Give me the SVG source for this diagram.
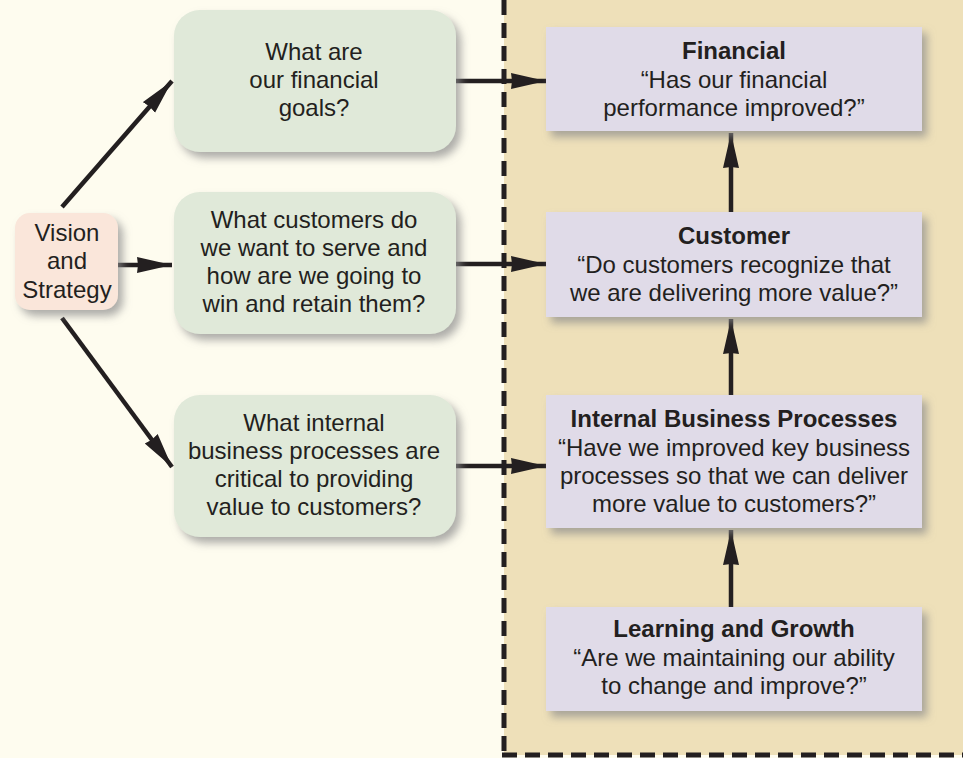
<svg xmlns="http://www.w3.org/2000/svg" width="963" height="758" viewBox="0 0 963 758">
<defs>
<style>
.t{font-family:"Liberation Sans",Arial,sans-serif;font-size:24px;fill:#231f20;text-anchor:middle}
.b{font-weight:bold}
.g{fill:#e0e9d9}
.p{fill:#e0dbe8}
.c{stroke:#231f20;stroke-width:4.5;fill:none}
.d{stroke:#231f20;stroke-width:5;stroke-dasharray:15,8}
</style>
<filter id="sh" x="-10%" y="-10%" width="130%" height="130%">
<feDropShadow dx="5" dy="6" stdDeviation="4" flood-color="#8a8a8a" flood-opacity="0.7"/>
</filter>
<marker id="ah" markerUnits="userSpaceOnUse" markerWidth="38" markerHeight="18" refX="35" refY="8" orient="auto">
<path d="M0,0 L35,8 L0,16 L1,8 Z" fill="#231f20"/>
</marker>
</defs>
<rect width="963" height="758" fill="#fefcef"/>
<rect x="504" y="0" width="459" height="755" fill="#eee0b9"/>
<g id="border">
<line class="d" x1="504" y1="0" x2="504" y2="755"/>
<line class="d" x1="502" y1="755" x2="963" y2="755"/>
</g>
<g id="connectors">
<line class="c" x1="62" y1="207" x2="172" y2="81" marker-end="url(#ah)"/>
<line class="c" x1="118" y1="265" x2="172" y2="265" marker-end="url(#ah)"/>
<line class="c" x1="62" y1="318" x2="172" y2="467" marker-end="url(#ah)"/>
<line class="c" x1="456" y1="81" x2="546" y2="81" marker-end="url(#ah)"/>
<line class="c" x1="456" y1="264" x2="546" y2="264" marker-end="url(#ah)"/>
<line class="c" x1="456" y1="466" x2="546" y2="466" marker-end="url(#ah)"/>
<line class="c" x1="731" y1="212" x2="731" y2="133" marker-end="url(#ah)"/>
<line class="c" x1="731" y1="395" x2="731" y2="319" marker-end="url(#ah)"/>
<line class="c" x1="731" y1="607" x2="731" y2="530" marker-end="url(#ah)"/>
</g>
<g id="vision">
<rect x="15" y="213" width="103" height="97" rx="15" fill="#fae6da" filter="url(#sh)"/>
<text class="t"><tspan x="67" y="241">Vision</tspan><tspan x="67" y="269">and</tspan><tspan x="67" y="298">Strategy</tspan></text>
</g>
<g id="q1">
<rect class="g" x="174" y="10" width="282" height="142" rx="26" filter="url(#sh)"/>
<text class="t"><tspan x="314" y="60">What are</tspan><tspan x="314" y="88">our financial</tspan><tspan x="314" y="116">goals?</tspan></text>
</g>
<g id="q2">
<rect class="g" x="174" y="192" width="282" height="142" rx="26" filter="url(#sh)"/>
<text class="t"><tspan x="314" y="228">What customers do</tspan><tspan x="314" y="256">we want to serve and</tspan><tspan x="314" y="284">how are we going to</tspan><tspan x="314" y="312">win and retain them?</tspan></text>
</g>
<g id="q3">
<rect class="g" x="174" y="395" width="282" height="142" rx="26" filter="url(#sh)"/>
<text class="t"><tspan x="314" y="431">What internal</tspan><tspan x="314" y="459">business processes are</tspan><tspan x="314" y="487">critical to providing</tspan><tspan x="314" y="515">value to customers?</tspan></text>
</g>
<g id="financial">
<rect class="p" x="546" y="27" width="376" height="104" filter="url(#sh)"/>
<text class="t"><tspan class="b" x="734" y="59">Financial</tspan><tspan x="734" y="88">“Has our financial</tspan><tspan x="734" y="116">performance improved?”</tspan></text>
</g>
<g id="customer">
<rect class="p" x="546" y="212" width="376" height="105" filter="url(#sh)"/>
<text class="t"><tspan class="b" x="734" y="244">Customer</tspan><tspan x="734" y="273">“Do customers recognize that</tspan><tspan x="734" y="301">we are delivering more value?”</tspan></text>
</g>
<g id="internal">
<rect class="p" x="546" y="395" width="376" height="133" filter="url(#sh)"/>
<text class="t"><tspan class="b" x="734" y="427">Internal Business Processes</tspan><tspan x="734" y="456">“Have we improved key business</tspan><tspan x="734" y="484">processes so that we can deliver</tspan><tspan x="734" y="512">more value to customers?”</tspan></text>
</g>
<g id="learning">
<rect class="p" x="546" y="607" width="376" height="104" filter="url(#sh)"/>
<text class="t"><tspan class="b" x="734" y="637">Learning and Growth</tspan><tspan x="734" y="666">“Are we maintaining our ability</tspan><tspan x="734" y="694">to change and improve?”</tspan></text>
</g>
</svg>
